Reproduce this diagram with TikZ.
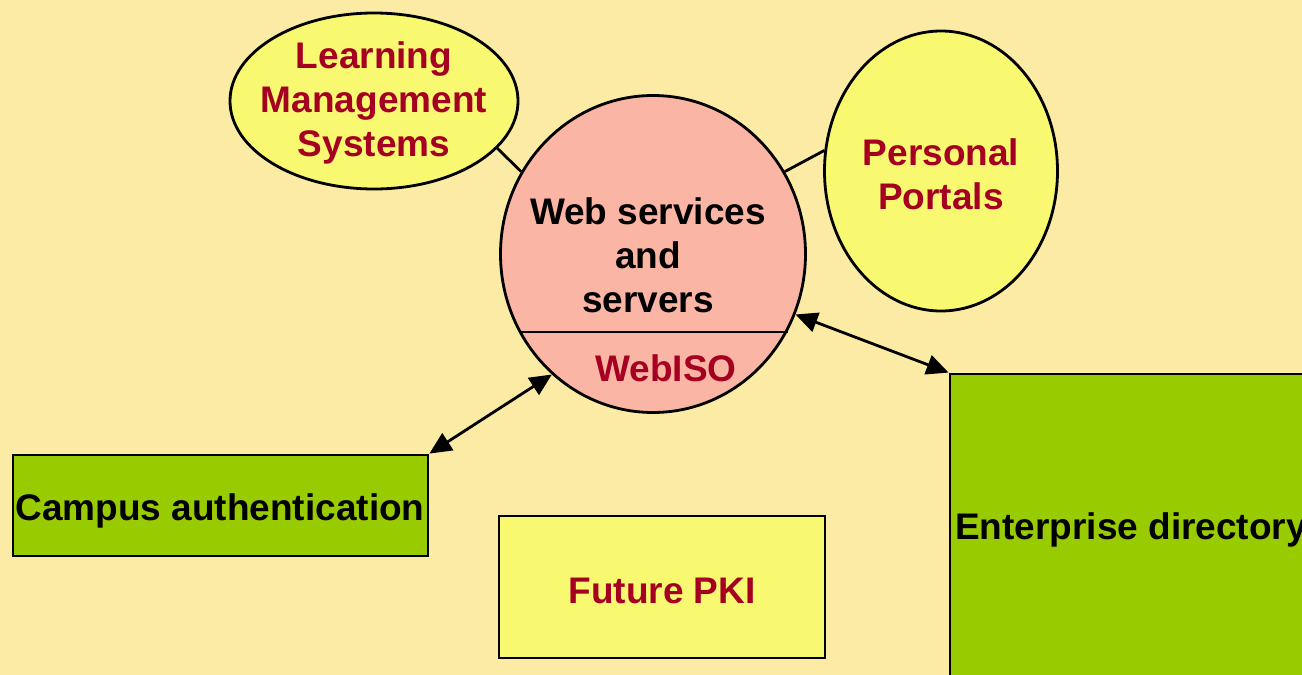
\documentclass[tikz,border=0pt]{standalone}
\usepackage{fontspec}
\setmainfont{Liberation Sans}
\usetikzlibrary{shapes.geometric,arrows.meta,calc}
\definecolor{bg}{HTML}{FCEBA4}
\definecolor{ylw}{HTML}{F9F871}
\definecolor{salmon}{HTML}{FBB5A5}
\definecolor{grn}{HTML}{99CC00}
\definecolor{dred}{HTML}{A50021}
\tikzset{
  lbl/.style={font=\fontsize{37}{44}\selectfont\bfseries, align=center, inner sep=0pt},
  oval/.style={ellipse, draw=black, line width=2.8pt, fill=ylw, inner sep=0pt},
  boxg/.style={rectangle, draw=black, line width=2.8pt, fill=grn, inner sep=0pt},
  link/.style={line width=2.8pt},
  dblarrow/.style={line width=2.8pt, {Triangle[length=22pt,width=20pt]}-{Triangle[length=22pt,width=20pt]}},
}
\begin{document}
\begin{tikzpicture}[x=1pt,y=-1pt]
\clip (0,0) rectangle (1302,675);
\fill[bg] (0,0) rectangle (1302,675);
% ellipses
\node[oval, minimum width=288, minimum height=176] (lms) at (374,101) {};
\node[lbl, text=dred] (lmstxt) at (374,103) {Learning\\Management\\Systems};
\node[oval, minimum width=233, minimum height=280] (portal) at (941,171) {};
\node[lbl, text=dred] (portaltxt) at (941,174) {Personal\\Portals};
\node[oval, fill=salmon, minimum width=305, minimum height=317] (web) at (653,254) {};
\node[lbl, text=black] (webtxt) at (648,255) {Web services\\and\\servers};
\node[lbl, text=dred] (webiso) at (666,368) {WebISO};
\draw[link] ($(web.center)+(-134.5,78)$) -- ($(web.center)+(134.5,78)$);
% boxes
\node[boxg, minimum width=415, minimum height=101] (campus) at (220.5,505.5) {};
\node[lbl, text=black] (campustxt) at (220,511) {Campus authentication};
\node[rectangle, draw=black, line width=2.8pt, fill=ylw, minimum width=326, minimum height=142] (pki) at (662,587) {};
\node[lbl, text=dred] (pkitxt) at (662,591) {Future PKI};
\node[boxg, minimum width=360, minimum height=306] (ent) at (1130,527) {};
\node[lbl, text=black] (enttxt) at (1131,530) {Enterprise directory};
% connectors
\draw[link] (lms.339) -- (web.148);
\draw[link] (web.32) -- (portal.170);
\draw[dblarrow] (campus.north east) -- (web.230);
\draw[dblarrow] (web.337) -- (ent.north west);
\end{tikzpicture}
\end{document}
